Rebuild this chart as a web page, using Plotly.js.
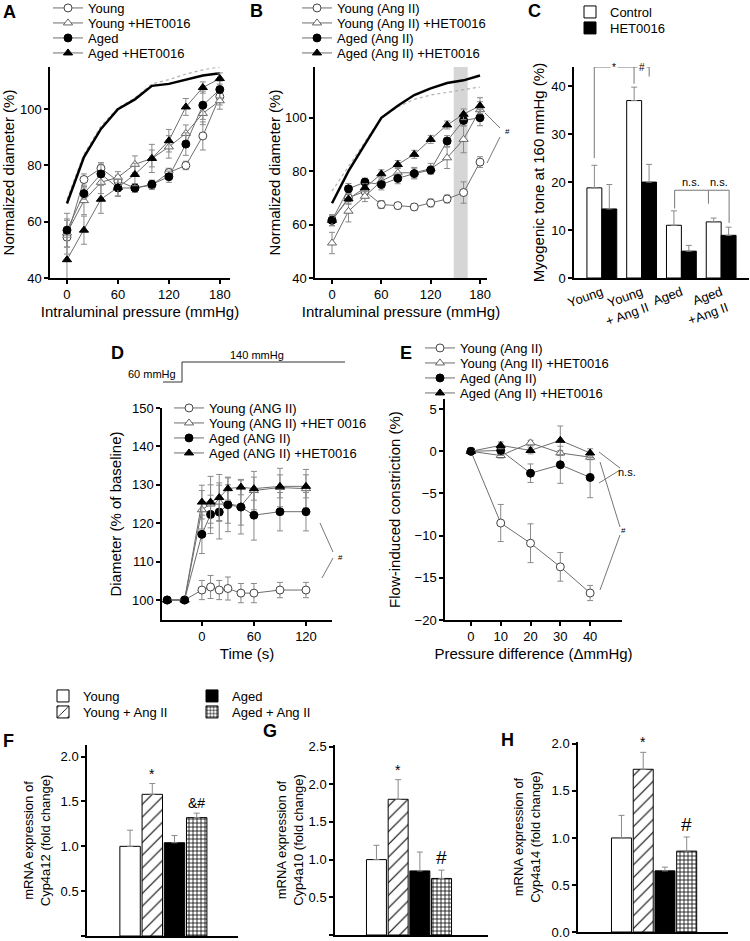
<!DOCTYPE html>
<html><head><meta charset="utf-8">
<script src="https://cdn.plot.ly/plotly-3.0.1.min.js"></script>
<style>html,body{margin:0;padding:0;background:#fff}#chart{width:750px;height:941px}</style>
</head><body><div id="chart"></div>
<script>
// ---------- Panel A ----------
const pressure = [0,20,40,60,80,100,120,140,160,180];
const aYoung      = [54.5, 75, 79, 74.5, 72, 73, 77.5, 80, 90.5, 104.5];
const aYoungErr   = [6, 2, 1.5, 2, 1.5, 1.5, 1.5, 1.5, 5, 3];
const aYoungHet   = [56, 67.5, 74, 75.8, 80.4, 82.5, 86.6, 91.4, 98.5, 103];
const aYoungHetErr= [5, 5, 4, 2, 3, 3, 4, 3, 4, 3];
const aAged       = [57, 70, 77, 72, 72, 73.3, 76, 87.6, 101.4, 107];
const aAgedErr    = [6, 2, 4, 3, 1.5, 1.5, 2, 4, 5, 3];
const aAgedHet    = [46.5, 57, 68, 72.2, 76.8, 82.5, 88.8, 100.8, 107.7, 110.9];
const aAgedHetErr = [8, 5, 5, 3, 4, 5, 4, 3, 2, 2];
const aPassive    = [66.5, 83, 93, 100, 103.5, 108.3, 109, 110.5, 112, 112.8];
const aPassiveHet = [68, 84, 94, 100.5, 104, 109, 110.5, 112.5, 114, 115];
// ---------- Panel B ----------
const bYoung      = [61.6, 70, 72.5, 67.5, 67.1, 66.6, 68.1, 69.6, 72, 83.4];
const bYoungErr   = [2, 2, 1.5, 1.5, 1.2, 1.2, 1.5, 1.5, 4, 2];
const bYoungHet   = [53.1, 65, 70.6, 76.3, 79.4, 79.4, 80.9, 85, 91.9, 103];
const bYoungHetErr= [4, 4, 2, 2, 2, 2, 2, 4, 5, 3];
const bAged       = [61.6, 73.4, 75.9, 75, 77.3, 79.1, 80.4, 91.3, 99, 100];
const bAgedErr    = [2, 2, 1.5, 2, 2, 2, 1.5, 2, 2, 3];
const bAgedHet    = [61.6, 69.6, 73.8, 79, 82.5, 86.3, 91.9, 97.3, 101.3, 104.5];
const bAgedHetErr = [2, 2, 1.5, 1.5, 1.5, 1.5, 1.5, 1.5, 2, 3];
const bPassive    = [68, 80, 90, 100, 104.5, 108.5, 111, 113, 114, 115.8];
const bPassiveHet = [72.5, 82, 91, 100, 104, 106.9, 108.5, 109.5, 110.5, 111.5];
const bBand       = [148, 165];
// ---------- Panel C ----------
const cGroups     = ['Young', 'Young<br>+ Ang II', 'Aged', 'Aged<br>+Ang II'];
const cControl    = [18.8, 37, 11, 11.7];
const cControlErr = [4.7, 2.8, 3, 0.8];
const cHet        = [14.4, 20, 5.6, 8.9];
const cHetErr     = [5.1, 3.7, 1.2, 1.7];
// ---------- Panel D ----------
const dTime       = [-40, -20, 0, 10, 20, 30, 45, 60, 90, 120];
const dYoung      = [100, 100, 102.6, 103.4, 102.6, 103, 101.8, 101.8, 102.6, 102.6];
const dYoungErr   = [0, 0, 2.5, 3, 2.5, 3, 2.5, 2.5, 2, 2];
const dYoungHet   = [100, 100, 123.5, 125, 125.5, 125, 124.5, 128.5, 129.3, 129];
const dYoungHetErr= [0, 0, 5, 5, 5, 5, 5, 5, 5, 5];
const dAged       = [100, 100, 117.1, 122.3, 122.9, 124.8, 124.2, 122.1, 123, 123];
const dAgedErr    = [0, 0, 5, 5, 7, 7, 7, 6.5, 5, 5];
const dAgedHet    = [100, 100, 125.5, 125.5, 126.7, 129, 129.4, 129, 129.6, 129.6];
const dAgedHetErr = [0, 0, 4.4, 6.7, 6, 3, 2, 3, 3, 3];
// ---------- Panel E ----------
const eDiff       = [0, 10, 20, 30, 40];
const eYoung      = [0, -8.5, -10.9, -13.7, -16.8];
const eYoungErr   = [0, 2.2, 2.3, 1.7, 0.9];
const eYoungHet   = [0, -0.5, 1.0, -0.2, -0.7];
const eYoungHetErr= [0, 0.3, 0.3, 0.3, 0.3];
const eAged       = [0, 0.1, -2.6, -1.6, -3.1];
const eAgedErr    = [0, 0.6, 1.1, 2.2, 2.4];
const eAgedHet    = [0, 0.7, 0.1, 1.3, -0.2];
const eAgedHetErr = [0, 0.4, 0.4, 1.7, 0.5];
// ---------- Panels F-H ----------
const fhGroups    = ['Young', 'Young + Ang II', 'Aged', 'Aged + Ang II'];
const cyp4a12     = [1.0, 1.58, 1.04, 1.32];
const cyp4a12Err  = [0.18, 0.12, 0.08, 0.05];
const cyp4a10     = [1.0, 1.80, 0.85, 0.75];
const cyp4a10Err  = [0.19, 0.26, 0.25, 0.11];
const cyp4a14     = [1.0, 1.73, 0.65, 0.86];
const cyp4a14Err  = [0.24, 0.18, 0.04, 0.15];

// ---------- helpers ----------
const W = 750, H = 941;
const FONT = 'Liberation Sans, Arial, Helvetica, sans-serif';
const px = v => v / W;
const py = v => 1 - v / H;
const LINE = '#6e6e6e';
const ERR = '#8a8a8a';

const layout = {
  width: W, height: H, margin: {l: 0, r: 0, t: 0, b: 0, autoexpand: false},
  paper_bgcolor: 'white', plot_bgcolor: 'rgba(0,0,0,0)',
  font: {family: FONT, color: 'black', size: 13},
  barmode: 'overlay', showlegend: true,
  shapes: [], annotations: []
};

// one legend per entry so each row sits where the reference puts it
let legendCount = 0;
function newLegend(x, yCenter) {
  legendCount += 1;
  const id = legendCount === 1 ? 'legend' : 'legend' + legendCount;
  layout[id] = {x: px(x), y: py(yCenter - 15), xanchor: 'left', yanchor: 'top', bgcolor: 'rgba(0,0,0,0)',
    font: {size: 13, family: FONT, color: 'black'}, tracegroupgap: 0, itemclick: false, itemdoubleclick: false};
  return id;
}

const styles = {
  youngOpen: {symbol: 'circle', size: 8, color: 'white', line: {color: '#444', width: 1}},
  youngTri:  {symbol: 'triangle-up', size: 8, color: 'white', line: {color: '#666', width: 1}},
  agedFill:  {symbol: 'circle', size: 8, color: 'black', line: {color: 'black', width: 1}},
  agedTri:   {symbol: 'triangle-up', size: 8, color: 'black', line: {color: 'black', width: 1}}
};

function series(x, y, err, name, style, xa, ya, legend) {
  return {
    type: 'scatter', mode: 'lines+markers', x: x, y: y, name: name,
    xaxis: xa, yaxis: ya, legend: legend, showlegend: true,
    line: {color: LINE, width: 1},
    marker: style,
    error_y: {type: 'data', array: err, visible: true, color: ERR, thickness: 1, width: 3}
  };
}
function passive(x, y, xa, ya, dotted) {
  return {
    type: 'scatter', mode: 'lines', x: x, y: y, xaxis: xa, yaxis: ya, showlegend: false,
    hoverinfo: 'skip',
    line: dotted ? {color: '#b0b0b0', width: 1.2, dash: 'dot'} : {color: 'black', width: 2.5}
  };
}
const zeros = n => new Array(n).fill(0);

const traces = [];
// A
traces.push(passive(pressure, aPassiveHet, 'x', 'y', true));
traces.push(passive(pressure, aPassive, 'x', 'y', false));
traces.push(series(pressure, aYoung, aYoungErr, 'Young', styles.youngOpen, 'x', 'y', newLegend(48, 8)));
traces.push(series(pressure, aYoungHet, aYoungHetErr, 'Young +HET0016', styles.youngTri, 'x', 'y', newLegend(48, 23)));
traces.push(series(pressure, aAged, aAgedErr, 'Aged', styles.agedFill, 'x', 'y', newLegend(48, 38)));
traces.push(series(pressure, aAgedHet, aAgedHetErr, 'Aged +HET0016', styles.agedTri, 'x', 'y', newLegend(48, 53)));
// B
traces.push(passive(pressure, bPassiveHet, 'x2', 'y2', true));
traces.push(passive(pressure, bPassive, 'x2', 'y2', false));
traces.push(series(pressure, bYoung, bYoungErr, 'Young (Ang II)', styles.youngOpen, 'x2', 'y2', newLegend(297, 8)));
traces.push(series(pressure, bYoungHet, bYoungHetErr, 'Young (Ang II) +HET0016', styles.youngTri, 'x2', 'y2', newLegend(297, 23)));
traces.push(series(pressure, bAged, bAgedErr, 'Aged (Ang II)', styles.agedFill, 'x2', 'y2', newLegend(297, 38)));
traces.push(series(pressure, bAgedHet, bAgedHetErr, 'Aged (Ang II) +HET0016', styles.agedTri, 'x2', 'y2', newLegend(297, 53)));
// C
traces.push({type: 'bar', x: cGroups, y: cControl, name: 'Control', xaxis: 'x3', yaxis: 'y3', legend: newLegend(570, 12),
  width: 0.375, offset: -0.375, marker: {color: 'white', line: {color: 'black', width: 1}},
  error_y: {type: 'data', symmetric: false, array: cControlErr, arrayminus: zeros(4), color: ERR, thickness: 1, width: 3}});
traces.push({type: 'bar', x: cGroups, y: cHet, name: 'HET0016', xaxis: 'x3', yaxis: 'y3', legend: newLegend(570, 28),
  width: 0.375, offset: 0, marker: {color: 'black', line: {color: 'black', width: 1}},
  error_y: {type: 'data', symmetric: false, array: cHetErr, arrayminus: zeros(4), color: ERR, thickness: 1, width: 3}});
// D
traces.push(series(dTime, dYoung, dYoungErr, 'Young (ANG II)', styles.youngOpen, 'x4', 'y4', newLegend(169, 408)));
traces.push(series(dTime, dYoungHet, dYoungHetErr, 'Young (ANG II) +HET 0016', styles.youngTri, 'x4', 'y4', newLegend(169, 423)));
traces.push(series(dTime, dAged, dAgedErr, 'Aged (ANG II)', styles.agedFill, 'x4', 'y4', newLegend(169, 438)));
traces.push(series(dTime, dAgedHet, dAgedHetErr, 'Aged (ANG II) +HET0016', styles.agedTri, 'x4', 'y4', newLegend(169, 453)));
// E
traces.push(series(eDiff, eYoung, eYoungErr, 'Young (Ang II)', styles.youngOpen, 'x5', 'y5', newLegend(420, 348)));
traces.push(series(eDiff, eYoungHet, eYoungHetErr, 'Young (Ang II) +HET0016', styles.youngTri, 'x5', 'y5', newLegend(420, 363)));
traces.push(series(eDiff, eAged, eAgedErr, 'Aged (Ang II)', styles.agedFill, 'x5', 'y5', newLegend(420, 378)));
traces.push(series(eDiff, eAgedHet, eAgedHetErr, 'Aged (Ang II) +HET0016', styles.agedTri, 'x5', 'y5', newLegend(420, 393)));
// F-H
const fhMarkers = [
  {color: 'white', line: {color: 'black', width: 1}},
  {color: 'white', line: {color: 'black', width: 1}, pattern: {shape: '/', fgcolor: 'black', bgcolor: 'white', size: 9, solidity: 0.12}},
  {color: 'black', line: {color: 'black', width: 1}},
  {color: 'white', line: {color: 'black', width: 1}, pattern: {shape: '+', fgcolor: 'black', bgcolor: 'white', size: 4, solidity: 0.35}}
];
const fhLegends = [newLegend(43, 696), newLegend(43, 712), newLegend(192, 696), newLegend(192, 712)];
[[cyp4a12, cyp4a12Err, 'x6', 'y6'], [cyp4a10, cyp4a10Err, 'x7', 'y7'], [cyp4a14, cyp4a14Err, 'x8', 'y8']].forEach((p, pi) => {
  fhGroups.forEach((g, i) => {
    traces.push({type: 'bar', x: [g], y: [p[0][i]], name: g, xaxis: p[2], yaxis: p[3],
      legend: fhLegends[i], showlegend: pi === 0, width: 0.92, marker: fhMarkers[i],
      error_y: {type: 'data', symmetric: false, array: [p[1][i]], arrayminus: [0], color: ERR, thickness: 1, width: 3}});
  });
});

// ---------- axes ----------
function axis(d, range, extra) {
  return Object.assign({
    domain: d, range: range, showline: true, linecolor: 'black', linewidth: 1.5,
    ticks: 'outside', ticklen: 4, tickwidth: 1.5, tickcolor: 'black',
    showgrid: false, zeroline: false, automargin: false,
    tickfont: {size: 13, family: FONT, color: 'black'}
  }, extra || {});
}
function ttl(text, size, standoff) {
  return {text: text, font: {size: size, family: FONT, color: 'black'}, standoff: standoff};
}
Object.assign(layout, {
  xaxis: axis([px(50), px(230)], [-20, 192], {anchor: 'y', tickvals: [0, 60, 120, 180], title: ttl('Intraluminal pressure (mmHg)', 15, 5)}),
  yaxis: axis([py(278), py(67)], [40, 115], {anchor: 'x', tickvals: [40, 60, 80, 100], title: ttl('Normalized diameter (%)', 15, 5)}),
  xaxis2: axis([px(315), px(487)], [-20.7, 188.5], {anchor: 'y2', tickvals: [0, 60, 120, 180], title: ttl('Intraluminal pressure (mmHg)', 15, 5)}),
  yaxis2: axis([py(278), py(67)], [40, 119], {anchor: 'x2', tickvals: [40, 60, 80, 100], title: ttl('Normalized diameter (%)', 15, 1)}),
  xaxis3: axis([px(574), px(749)], [-0.7, 3.7], {anchor: 'y3', type: 'category', ticks: '', tickangle: -20}),
  yaxis3: axis([py(278), py(67)], [0, 44], {anchor: 'x3', tickvals: [0, 10, 20, 30, 40], title: ttl('Myogenic tone at 160 mmHg (%)', 15, 3)}),
  xaxis4: axis([px(162), px(332)], [-46, 150], {anchor: 'y4', tickvals: [0, 60, 120], title: ttl('Time (s)', 15, 5)}),
  yaxis4: axis([py(620), py(408)], [94.8, 150], {anchor: 'x4', tickvals: [100, 110, 120, 130, 140, 150], title: ttl('Diameter (% of baseline)', 15, 7)}),
  xaxis5: axis([px(445), px(622)], [-8.7, 50.7], {anchor: 'y5', tickvals: [0, 10, 20, 30, 40], title: ttl('Pressure difference (\u0394mmHg)', 15, 5)}),
  yaxis5: axis([py(620), py(399)], [-20, 6.2], {anchor: 'x5', tickvals: [-20, -15, -10, -5, 0, 5], title: ttl('Flow-induced constriction (%)', 15, 10)}),
  xaxis6: axis([px(87), px(238)], [-1.94, 4.86], {anchor: 'y6', type: 'category', ticks: '', showticklabels: false}),
  yaxis6: axis([py(936), py(745)], [0, 2.13], {anchor: 'x6', tickvals: [0, 0.5, 1, 1.5, 2], tickformat: '.1f', title: ttl('mRNA expression of<br>Cyp4a12 (fold change)', 13, 7)}),
  xaxis7: axis([px(335), px(488)], [-1.91, 5.14], {anchor: 'y7', type: 'category', ticks: '', showticklabels: false}),
  yaxis7: axis([py(935), py(745)], [0, 2.52], {anchor: 'x7', tickvals: [0, 0.5, 1, 1.5, 2, 2.5], tickformat: '.1f', title: ttl('mRNA expression of<br>Cyp4a10 (fold change)', 13, 2)}),
  xaxis8: axis([px(578), px(728)], [-2.0, 4.9], {anchor: 'y8', type: 'category', ticks: '', showticklabels: false}),
  yaxis8: axis([py(932), py(742)], [0, 2.02], {anchor: 'x8', tickvals: [0, 0.5, 1, 1.5, 2], tickformat: '.1f', title: ttl('mRNA expression of<br>Cyp4a14 (fold change)', 13, 8)})
});

// ---------- shapes ----------
const S = layout.shapes;
const thin = {color: '#777', width: 1};
S.push({type: 'rect', xref: 'x2', yref: 'y2 domain', x0: bBand[0], x1: bBand[1], y0: 0, y1: 1,
  fillcolor: '#d6d6d6', line: {width: 0}, layer: 'below'});
function seg(x0, y0, x1, y1, line) { S.push({type: 'line', xref: 'paper', yref: 'paper', x0: px(x0), y0: py(y0), x1: px(x1), y1: py(y1), line: line || thin}); }
seg(485, 113, 500, 128); seg(487, 163, 500, 137);            // B significance
seg(320, 523, 333, 552); seg(322, 578, 333, 558);            // D significance
S.push({type: 'path', xref: 'paper', yref: 'paper',          // D pressure step schematic
  path: `M${px(163)},${py(382)} L${px(182)},${py(382)} L${px(182)},${py(362)} L${px(345)},${py(362)}`,
  line: {color: '#333', width: 1}});
seg(599, 452, 620, 468); seg(599, 483, 620, 470);            // E n.s.
seg(600, 462, 620, 527); seg(600, 590, 620, 535);            // E #
function cseg(x0, y0, x1, y1) { S.push({type: 'line', xref: 'x3', yref: 'y3', x0: x0, y0: y0, x1: x1, y1: y1, line: thin}); }
cseg(-0.19, 25, -0.19, 44); cseg(-0.19, 44, 1.19, 44); cseg(0.81, 44, 0.81, 40.5); cseg(1.19, 44, 1.19, 42);
cseg(1.83, 18.3, 3.2, 18.3); cseg(1.83, 18.3, 1.83, 14.5); cseg(2.68, 18.3, 2.68, 15.5); cseg(3.2, 18.3, 3.2, 11.5);

// ---------- annotations ----------
const A = layout.annotations;
function ptext(x, y, t, size, bold) {
  A.push({xref: 'paper', yref: 'paper', x: px(x), y: py(y), text: bold ? '<b>' + t + '</b>' : t,
    showarrow: false, xanchor: 'center', yanchor: 'middle', font: {size: size, family: FONT, color: 'black'}});
}
ptext(9, 12, 'A', 18, true); ptext(256, 11, 'B', 18, true); ptext(534, 11, 'C', 18, true);
ptext(117, 353, 'D', 18, true); ptext(406, 353, 'E', 18, true);
ptext(8, 741, 'F', 18, true); ptext(270, 731, 'G', 18, true); ptext(507, 740, 'H', 18, true);
ptext(152, 374, '60 mmHg', 11); ptext(257, 355, '140 mmHg', 11);
ptext(507, 131, '#', 8); ptext(340, 557, '#', 8); ptext(627, 472, 'n.s.', 11); ptext(623, 530, '#', 8);
function ctext(x, y, t, size, extra) {
  A.push(Object.assign({xref: 'x3', yref: 'y3', x: x, y: y, text: t, showarrow: false,
    font: {size: size, family: FONT, color: 'black'}}, extra || {}));
}
ctext(0.31, 44, '*', 10, {bgcolor: 'white'});
ctext(1.0, 44, '#', 10, {bgcolor: 'white'});
ctext(2.25, 18.3, 'n.s.', 11, {yanchor: 'bottom'});
ctext(2.95, 18.3, 'n.s.', 11, {yanchor: 'bottom'});
function barLabel(xa, ya, gi, vals, errs, t, size) {
  A.push({xref: xa, yref: ya, x: fhGroups[gi], y: vals[gi] + errs[gi], yanchor: 'bottom', text: t,
    showarrow: false, font: {size: size, family: FONT, color: 'black'}});
}
barLabel('x6', 'y6', 1, cyp4a12, cyp4a12Err, '*', 14);
barLabel('x6', 'y6', 3, cyp4a12, cyp4a12Err, '&amp;#', 14);
barLabel('x7', 'y7', 1, cyp4a10, cyp4a10Err, '*', 14);
barLabel('x7', 'y7', 3, cyp4a10, cyp4a10Err, '#', 19);
barLabel('x8', 'y8', 1, cyp4a14, cyp4a14Err, '*', 14);
barLabel('x8', 'y8', 3, cyp4a14, cyp4a14Err, '#', 19);

Plotly.newPlot('chart', traces, layout, {displayModeBar: false, responsive: false});
</script>
</body></html>
